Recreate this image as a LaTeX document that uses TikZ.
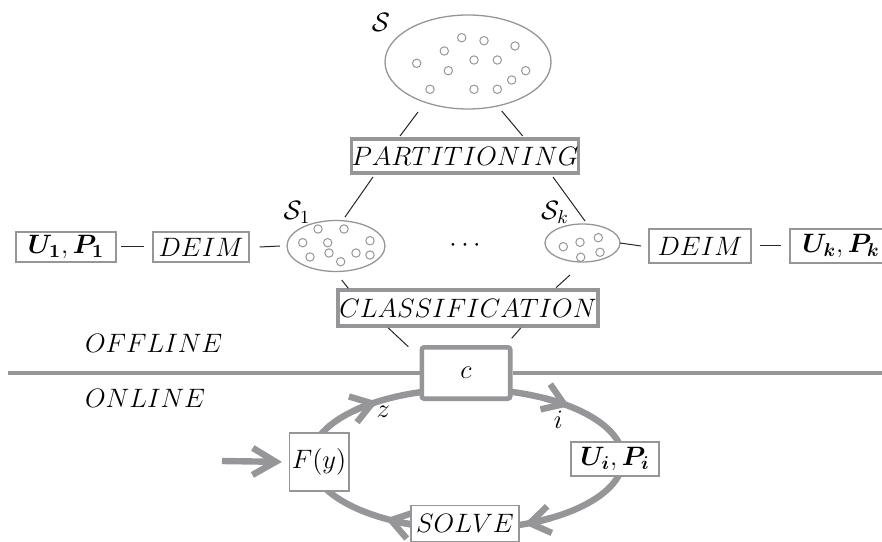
\RequirePackage{fix-cm}
\documentclass[tikz,border=0pt]{standalone}
\usepackage{bm}
\usetikzlibrary{arrows.meta,calc}
\definecolor{lg}{RGB}{150,150,153}
\begin{document}
\begin{tikzpicture}[x=0.5pt,y=0.5pt,
  every node/.style={font=\fontsize{13.3}{16}\selectfont},
  heavybox/.style={draw=lg, fill=white, line width=1.65pt, inner sep=0pt},
  midbox/.style={draw=lg, fill=white, line width=1.25pt, inner sep=0pt},
  lightbox/.style={draw=lg, fill=white, line width=0.9pt, inner sep=0pt},
  cbox/.style={draw=lg, fill=white, line width=2.3pt, inner sep=0pt, rounded corners=1.2pt},
  conn/.style={draw=black!85, line width=0.5pt},
  setline/.style={draw=lg, line width=0.65pt},
  dot/.style={draw=lg, line width=0.5pt},
  loopline/.style={draw=lg, line width=3.2pt},
  looptip/.style={loopline, -{Straight Barb[length=10pt,width=13.5pt]}},
  sepline/.style={draw=lg, line width=2.3pt},
]
\useasboundingbox (0,0) rectangle (882,541);
\clip (0,0) rectangle (882,541);

% ---------- the set S ----------
\coordinate (S) at (468,479);
\draw[setline] (S) ellipse[x radius=83, y radius=47];
\foreach \p in {(461.7,503.3),(484,500.3),(515,495),(444.3,490),(416.7,477.7),(474,481),(497.3,481),(448.3,470.3),(525.7,470.3),(511.7,461),(430,451.7),(474,451.7),(497.3,451.7)}
  \draw[dot] \p circle[radius=4.2];
\node (Slab) at (381,519) {$\mathcal{S}$};

% ---------- partitioning ----------
\node[heavybox, minimum width=112pt, minimum height=17pt] (P) at (465,385) {$PARTITIONING$};

% ---------- subsets ----------
\coordinate (S1) at (336,295);
\draw[setline] (S1) ellipse[x radius=49, y radius=25.5];
\foreach \p in {(318,312),(344,312),(302.7,298.3),(327.7,298.3),(370,300.3),(329,288),(356,288),(370,286),(310,284),(340.7,279.3)}
  \draw[dot] \p circle[radius=4.2];
\node (S1lab) at (297,329) {$\mathcal{S}_1$};

\coordinate (Sk) at (582.5,298);
\draw[setline] (Sk) ellipse[x radius=37.5, y radius=19];
\foreach \p in {(563.3,294.3),(580,298.7),(598.3,303.3),(580.7,283.7),(600,288.7)}
  \draw[dot] \p circle[radius=4.2];
\node (Sklab) at (555,329) {$\mathcal{S}_k$};

\node (dots) at (465,295) {$\cdots$};

\node[midbox, minimum width=48pt, minimum height=15pt] (D1) at (201,294) {$DEIM$};
\node[midbox, minimum width=50pt, minimum height=15pt] (U1) at (66,294) {$\bm{U_1}, \bm{P_1}$};
\node[midbox, minimum width=51pt, minimum height=17pt] (Dk) at (700,295) {$DEIM$};
\node[midbox, minimum width=51pt, minimum height=17pt] (Uk) at (841,295) {$\bm{U_k}, \bm{P_k}$};

% ---------- classification ----------
\node[heavybox, minimum width=130pt, minimum height=18pt] (C) at (468,233) {$CLASSIFICATION$};

% ---------- connectors (offline) ----------
\draw[conn] ($(S)+(-50,-50)$) -- ($(P)+(-65,20)$);
\draw[conn] ($(S)+(33.7,-49)$) -- ($(P)+(57.7,20)$);
\draw[conn] ($(P)+(-92,-21)$) -- ($(S1)+(9,29)$);
\draw[conn] ($(P)+(88,-21)$) -- ($(Sk)+(2.5,22)$);
\draw[conn] ($(S1)+(5.7,-34)$) -- ($(C)+(-119.7,19.7)$);
\draw[conn] ($(Sk)+(-12.5,-32)$) -- ($(C)+(88,20.3)$);
\draw[conn] ($(U1.east)+(3.5,0)$) -- ($(D1.west)+(-7.7,0)$);
\draw[conn] ($(D1.east)+(9.3,0)$) -- ($(S1)+(-56,0)$);
\draw[conn] ($(Sk)+(37.5,0)$) -- ($(Dk.west)+(-6.6,0)$);
\draw[conn] ($(Dk.east)+(8,0)$) -- ($(Uk.west)+(-7.6,0)$);

% ---------- online loop ----------
\coordinate (E) at (467,82);
\draw[loopline] (E) ellipse[x radius=156, y radius=70];
\draw[looptip] (E) ++(137:156 and 70) arc[start angle=137, end angle=125, x radius=156, y radius=70];
\draw[looptip] (E) ++(60:156 and 70) arc[start angle=60, end angle=49, x radius=156, y radius=70];
\draw[looptip] (E) ++(-57:156 and 70) arc[start angle=-57, end angle=-68.5, x radius=156, y radius=70];
\draw[looptip] (E) ++(-110:156 and 70) arc[start angle=-110, end angle=-121.5, x radius=156, y radius=70];

% separator line
\coordinate (Lleft) at (8,168);
\coordinate (Lright) at (882,168);
\node[cbox, minimum width=44.2pt, minimum height=25.7pt] (c) at (466,168) {$c$};
\draw[sepline] (Lleft) -- (c.west);
\draw[sepline] (c.east) -- (Lright);

\draw[conn] ($(C)+(-79.7,-20)$) -- ($(c)+(-57.7,26.3)$);
\draw[conn] ($(C)+(52.7,-20)$) -- ($(c)+(45.7,34.7)$);

\node[anchor=base west] (off) at (78,188.3) {$OFFLINE$};
\node[anchor=base west] (on) at (78,134) {$ONLINE$};

\node[lightbox, minimum width=29.6pt, minimum height=29.1pt] (F) at (319,79) {$F(y)$};
\node[lightbox, minimum width=44.1pt, minimum height=17.1pt] (Ui) at (615,82) {$\bm{U_i}, \bm{P_i}$};
\node[lightbox, minimum width=54pt, minimum height=18pt] (solve) at (465,17.5) {$SOLVE$};

\node (zlab) at (383.3,129.3) {$z$};
\node (ilab) at (558.3,121.7) {$i$};

\coordinate (in) at (222,80);
\draw[loopline, -{Straight Barb[length=11.5pt,width=13.5pt]}, shorten >=3.3pt] (in) -- (F.west);
\end{tikzpicture}
\end{document}
